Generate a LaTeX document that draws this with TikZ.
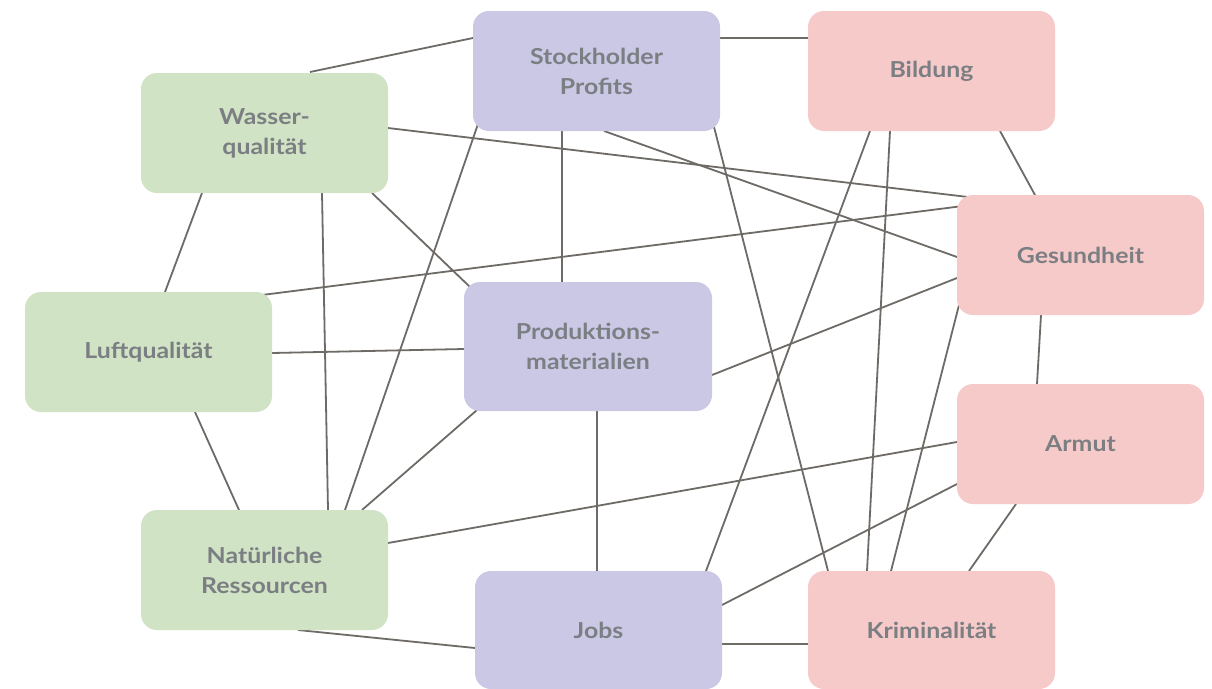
\documentclass[tikz,border=0pt]{standalone}
\usepackage{fontspec}
\setmainfont{Lato}[FakeStretch=1.13]
\usetikzlibrary{backgrounds}
\definecolor{greenbox}{HTML}{D0E3C4}
\definecolor{purplebox}{HTML}{CBC8E5}
\definecolor{pinkbox}{HTML}{F7CACA}
\definecolor{labelgray}{HTML}{7B7E82}
\definecolor{linkgray}{HTML}{6E6A66}
\tikzset{
  box/.style={rounded corners=16pt, minimum width=247pt, minimum height=120pt,
    inner sep=0pt, align=center, text=labelgray,
    font=\fontsize{22}{30}\selectfont\bfseries},
  envbox/.style={box, fill=greenbox},
  econbox/.style={box, fill=purplebox},
  socbox/.style={box, fill=pinkbox},
  link/.style={draw=linkgray, line width=1.8pt},
}
\begin{document}
\begin{tikzpicture}[x=1pt,y=-1pt]
\useasboundingbox (0,0) rectangle (1212,688);

% environment
\node[envbox] (wasser) at (264.5,133) {Wasser-\\qualität};
\node[envbox] (luft)   at (148.5,352) {Luftqualität};
\node[envbox] (natur)  at (264.5,570) {Natürliche\\Ressourcen};
% economy
\node[econbox] (stock) at (596.5,71) {Stockholder\\Profits};
\node[econbox, minimum width=248pt, minimum height=129pt] (prod) at (588,346.5) {Produktions-\\materialien};
\node[econbox, minimum height=118pt] (jobs) at (598.5,630) {Jobs};
% society
\node[socbox] (bildung) at (931.5,71) {Bildung};
\node[socbox] (gesund)  at (1080.5,255) {Gesundheit};
\node[socbox] (armut)   at (1080.5,444) {Armut};
\node[socbox, minimum height=118pt] (krim) at (931.5,630) {Kriminalität};

\begin{scope}[on background layer]
  \fill[white] (0,0) rectangle (1212,688);
  \draw[link] ([shift={(45.5,-61)}]wasser.center) -- ([shift={(-123.5,-33)}]stock.center);
  \draw[link] ([shift={(123.5,-33)}]stock.center) -- ([shift={(-123.5,-33)}]bildung.center);
  \draw[link] ([shift={(123.5,-5)}]wasser.center) -- ([shift={(-112.5,-58)}]gesund.center);
  \draw[link] ([shift={(107.5,60)}]wasser.center) -- ([shift={(-118,-59.5)}]prod.center);
  \draw[link] ([shift={(57.5,60)}]wasser.center) -- ([shift={(63.5,-60)}]natur.center);
  \draw[link] ([shift={(-62.5,60)}]wasser.center) -- ([shift={(16.5,-60)}]luft.center);
  \draw[link] ([shift={(113.5,-57)}]luft.center) -- ([shift={(-117.5,-49)}]gesund.center);
  \draw[link] ([shift={(123.5,1)}]luft.center) -- ([shift={(-124,2.5)}]prod.center);
  \draw[link] ([shift={(46.5,60)}]luft.center) -- ([shift={(-25.5,-60)}]natur.center);
  \draw[link] ([shift={(-118.5,53)}]stock.center) -- ([shift={(80.5,-60)}]natur.center);
  \draw[link] ([shift={(-34.5,60)}]stock.center) -- ([shift={(-26,-64.5)}]prod.center);
  \draw[link] ([shift={(7.5,60)}]stock.center) -- ([shift={(-123.5,2)}]gesund.center);
  \draw[link] ([shift={(116.5,52)}]stock.center) -- ([shift={(-103.5,-59)}]krim.center);
  \draw[link] ([shift={(-61.5,60)}]bildung.center) -- ([shift={(107.5,-59)}]jobs.center);
  \draw[link] ([shift={(-41.5,60)}]bildung.center) -- ([shift={(-64.5,-59)}]krim.center);
  \draw[link] ([shift={(68.5,60)}]bildung.center) -- ([shift={(-45.5,-60)}]gesund.center);
  \draw[link] ([shift={(124,28.5)}]prod.center) -- ([shift={(-123.5,23)}]gesund.center);
  \draw[link] ([shift={(-111,63.5)}]prod.center) -- ([shift={(97.5,-60)}]natur.center);
  \draw[link] ([shift={(9,64.5)}]prod.center) -- ([shift={(-1.5,-59)}]jobs.center);
  \draw[link] ([shift={(123.5,-27)}]natur.center) -- ([shift={(-123.5,-2)}]armut.center);
  \draw[link] ([shift={(33.5,60)}]natur.center) -- ([shift={(-123.5,18)}]jobs.center);
  \draw[link] ([shift={(123.5,-25)}]jobs.center) -- ([shift={(-123.5,40)}]armut.center);
  \draw[link] ([shift={(123.5,14)}]jobs.center) -- ([shift={(-123.5,14)}]krim.center);
  \draw[link] ([shift={(-39.5,60)}]gesund.center) -- ([shift={(-43.5,-60)}]armut.center);
  \draw[link] ([shift={(-121.5,50)}]gesund.center) -- ([shift={(-40.5,-59)}]krim.center);
  \draw[link] ([shift={(-64.5,60)}]armut.center) -- ([shift={(37.5,-59)}]krim.center);
\end{scope}
\end{tikzpicture}
\end{document}
